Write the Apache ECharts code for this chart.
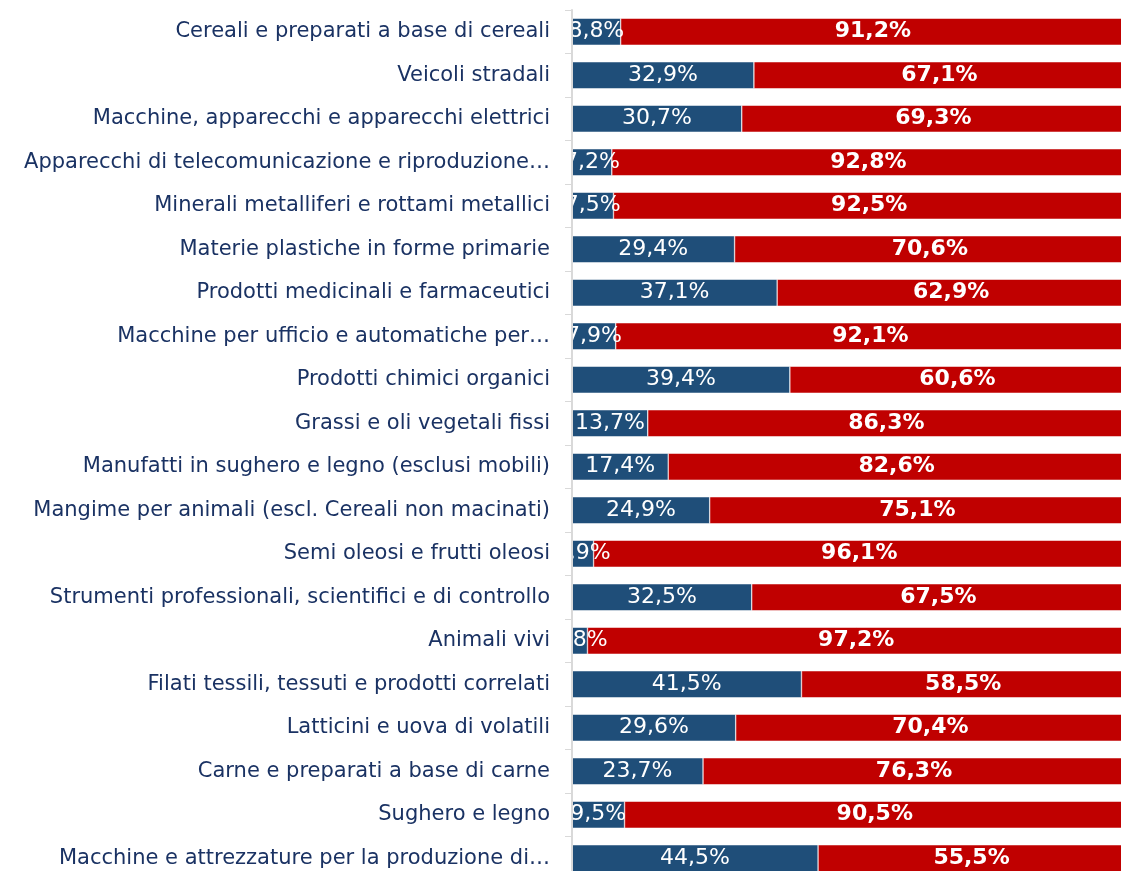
<!DOCTYPE html>
<html>
<head>
<meta charset="utf-8">
<script src="https://cdn.jsdelivr.net/npm/echarts@6/dist/echarts.min.js"></script>
<style>html,body{margin:0;padding:0;background:#fff;overflow:hidden;}#c{width:1125px;height:900px;}</style>
</head>
<body>
<div id="c"></div>
<script>
const categories = [
  "Cereali e preparati a base di cereali",
  "Veicoli stradali",
  "Macchine, apparecchi e apparecchi elettrici",
  "Apparecchi di telecomunicazione e riproduzione…",
  "Minerali metalliferi e rottami metallici",
  "Materie plastiche in forme primarie",
  "Prodotti medicinali e farmaceutici",
  "Macchine per ufficio e automatiche per…",
  "Prodotti chimici organici",
  "Grassi e oli vegetali fissi",
  "Manufatti in sughero e legno (esclusi mobili)",
  "Mangime per animali (escl. Cereali non macinati)",
  "Semi oleosi e frutti oleosi",
  "Strumenti professionali, scientifici e di controllo",
  "Animali vivi",
  "Filati tessili, tessuti e prodotti correlati",
  "Latticini e uova di volatili",
  "Carne e preparati a base di carne",
  "Sughero e legno",
  "Macchine e attrezzature per la produzione di…"
];
const blueValues = [8.8, 32.9, 30.7, 7.2, 7.5, 29.4, 37.1, 7.9, 39.4, 13.7, 17.4, 24.9, 3.9, 32.5, 2.8, 41.5, 29.6, 23.7, 9.5, 44.5];
const redValues = [91.2, 67.1, 69.3, 92.8, 92.5, 70.6, 62.9, 92.1, 60.6, 86.3, 82.6, 75.1, 96.1, 67.5, 97.2, 58.5, 70.4, 76.3, 90.5, 55.5];

const fmt = p => p.value.toFixed(1).replace('.', ',') + '%';
const FONT = '"DejaVu Sans", Verdana, sans-serif';

const chart = echarts.init(document.getElementById('c'), null, {renderer: 'canvas'});
chart.setOption({
  animation: false,
  grid: {left: 572, right: 0, top: 10, height: 870, containLabel: false},
  xAxis: {type: 'value', min: 0, max: 100, show: false},
  yAxis: {
    type: 'category', data: categories, inverse: true, z: 10,
    axisLine: {show: true, lineStyle: {color: '#D9D9D9', width: 2}},
    axisTick: {show: true, length: 7, lineStyle: {color: '#D9D9D9', width: 1}},
    axisLabel: {color: '#1A3263', fontFamily: FONT, fontSize: 21, margin: 22}
  },
  graphic: {elements: [{type: 'rect', z: 5, shape: {x: 0, y: 0, width: 571, height: 900}, style: {fill: '#ffffff'}}]},
  series: [
    {type: 'bar', stack: 't', data: blueValues, barWidth: '62%',
     itemStyle: {color: '#1F4E79', borderColor: '#ffffff', borderWidth: 0.5},
     label: {show: true, position: 'inside', formatter: fmt, color: '#ffffff', fontFamily: FONT, fontSize: 22}},
    {type: 'bar', stack: 't', data: redValues, barWidth: '62%',
     itemStyle: {color: '#C00000', borderColor: '#ffffff', borderWidth: 0.5},
     label: {show: true, position: 'inside', formatter: fmt, color: '#ffffff', fontFamily: FONT, fontSize: 22, fontWeight: 'bold'}}
  ]
});
</script>
</body>
</html>
